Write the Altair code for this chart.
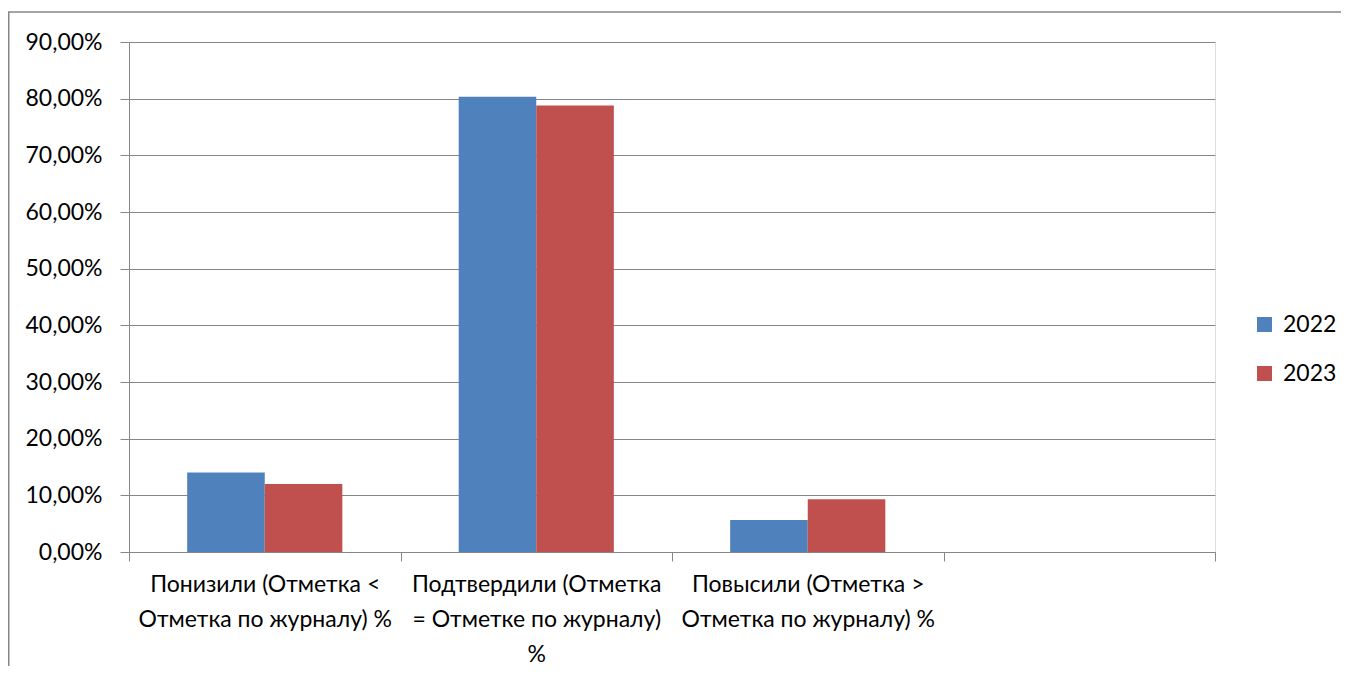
import altair as alt
import pandas as pd

categories = [
    "Понизили (Отметка <\nОтметка по журналу) %",
    "Подтвердили (Отметка\n= Отметке по журналу)\n%",
    "Повысили (Отметка >\nОтметка по журналу) %",
    " ",
]
years = ["2022", "2023"]
values_2022 = [0.1405, 0.8035, 0.0565]
values_2023 = [0.1200, 0.7880, 0.0930]
y_ticks = [0.0, 0.1, 0.2, 0.3, 0.4, 0.5, 0.6, 0.7, 0.8, 0.9]
colors = ["#4F81BD", "#C0504D"]

rows = []
for c, v in zip(categories[:3], values_2022):
    rows.append({"cat": c, "year": "2022", "val": v})
for c, v in zip(categories[:3], values_2023):
    rows.append({"cat": c, "year": "2023", "val": v})
df = pd.DataFrame(rows)

FONT = "Lato, 'Noto Sans', sans-serif"
GRID = "#868686"

bars = alt.Chart(df).mark_bar().encode(
    x=alt.X(
        "cat:N",
        scale=alt.Scale(domain=categories, paddingInner=0, paddingOuter=0),
        sort=categories,
        axis=alt.Axis(
            title=None,
            labelAngle=0,
            labelExpr="split(datum.label, '\\n')",
            labelFontSize=23,
            labelFont=FONT,
            labelColor="#000000",
            labelLineHeight=35,
            labelPadding=12,
            labelBaseline="top",
            labelLimit=0,
            tickBand="extent",
            tickSize=9,
            tickColor=GRID,
            domainColor=GRID,
            grid=False,
        ),
    ),
    xOffset=alt.XOffset(
        "year:N",
        scale=alt.Scale(domain=years, paddingOuter=0.75, paddingInner=0),
    ),
    y=alt.Y(
        "val:Q",
        scale=alt.Scale(domain=[0, 0.9], nice=False),
        axis=alt.Axis(
            title=None,
            values=y_ticks,
            labelExpr="replace(format(datum.value, '.2%'), '.', ',')",
            labelFontSize=23,
            labelFont=FONT,
            labelColor="#000000",
            labelPadding=18,
            tickSize=9,
            tickColor=GRID,
            domainColor=GRID,
            gridColor=GRID,
        ),
    ),
    color=alt.Color(
        "year:N",
        scale=alt.Scale(domain=years, range=colors),
        legend=alt.Legend(
            title=None,
            orient="none",
            legendX=1124,
            legendY=271,
            symbolType="square",
            symbolSize=225,
            symbolStrokeWidth=0,
            labelFontSize=23,
            labelFont=FONT,
            labelColor="#000000",
            labelOffset=7,
            rowPadding=25,
            padding=0,
        ),
    ),
)

border = alt.Chart(pd.DataFrame({"b": [0]})).mark_rect(
    fillOpacity=0, stroke=GRID, strokeWidth=1.5
).encode(
    x=alt.value(-120.25),
    x2=alt.value(2000),
    y=alt.value(-30),
    y2=alt.value(1000),
)

chart = alt.layer(border, bars).properties(
    width=1086,
    height=510,
    autosize=alt.AutoSizeParams(type="none"),
    padding={"left": 121, "top": 34, "right": 126, "bottom": 114},
).configure_view(stroke=None).configure(font=FONT)

chart.save("out.html", embed_options={"renderer": "svg", "actions": False})
